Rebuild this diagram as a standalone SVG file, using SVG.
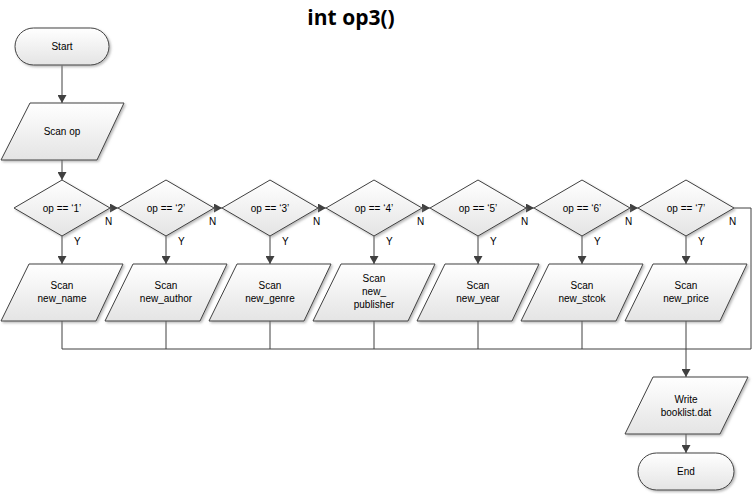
<svg xmlns="http://www.w3.org/2000/svg" width="753" height="494" viewBox="0 0 753 494">
<defs>
<linearGradient id="g" x1="0" y1="0" x2="0" y2="1">
<stop offset="0" stop-color="#ffffff"/>
<stop offset="1" stop-color="#e4e4e4"/>
</linearGradient>
<filter id="sh" x="-10%" y="-10%" width="130%" height="140%">
<feDropShadow dx="1.5" dy="1.5" stdDeviation="0.8" flood-color="#8a8a8a" flood-opacity="0.6"/>
</filter>
<marker id="ah" markerWidth="9" markerHeight="9" refX="8" refY="4.5" orient="auto" markerUnits="userSpaceOnUse">
<path d="M0,0 L8,4.5 L0,9 Z" fill="#404040"/>
</marker>
</defs>
<style>
.s{fill:url(#g);stroke:#404040;stroke-width:1;filter:url(#sh)}
.t{font-family:"Liberation Sans",Arial,sans-serif;font-size:10px;fill:#000;text-anchor:middle}
.l{font-family:"Liberation Sans",Arial,sans-serif;font-size:10px;fill:#000}
.c{fill:none;stroke:#404040;stroke-width:1}
.a{fill:none;stroke:#404040;stroke-width:1;marker-end:url(#ah)}
</style>
<rect width="753" height="494" fill="#fff"/>
<text x="351" y="25" font-family="'Open Sans','Liberation Sans',sans-serif" font-size="21" font-weight="bold" text-anchor="middle" fill="#000">int op3()</text>

<g id="connectors">
<path class="a" d="M62,65.5 L62,103"/>
<path class="a" d="M62,160 L62,180"/>
<path class="a" d="M110,208 L118,208"/>
<path class="a" d="M214,208 L222,208"/>
<path class="a" d="M318,208 L326,208"/>
<path class="a" d="M422,208 L430,208"/>
<path class="a" d="M526,208 L534,208"/>
<path class="a" d="M630,208 L638,208"/>
<path class="a" d="M62,236 L62,264"/>
<path class="a" d="M166,236 L166,264"/>
<path class="a" d="M270,236 L270,264"/>
<path class="a" d="M374,236 L374,264"/>
<path class="a" d="M478,236 L478,264"/>
<path class="a" d="M582,236 L582,264"/>
<path class="a" d="M686,236 L686,264"/>
<path class="c" d="M62,321 L62,349 M166,321 L166,349 M270,321 L270,349 M374,321 L374,349 M478,321 L478,349 M582,321 L582,349"/>
<path class="c" d="M62,349 L751,349"/>
<path class="c" d="M734,208 L751,208 L751,349"/>
<path class="a" d="M686,321 L686,377"/>
<path class="a" d="M686,434 L686,453"/>
<text class="l" x="105" y="225">N</text>
<text class="l" x="209" y="225">N</text>
<text class="l" x="313" y="225">N</text>
<text class="l" x="417" y="225">N</text>
<text class="l" x="521" y="225">N</text>
<text class="l" x="625" y="225">N</text>
<text class="l" x="729" y="225">N</text>
<text class="l" x="74" y="245">Y</text>
<text class="l" x="178" y="245">Y</text>
<text class="l" x="282" y="245">Y</text>
<text class="l" x="386" y="245">Y</text>
<text class="l" x="490" y="245">Y</text>
<text class="l" x="594" y="245">Y</text>
<text class="l" x="698" y="245">Y</text>
</g>

<g id="start">
<rect class="s" x="15" y="28" width="94" height="37" rx="18.5" ry="18.5"/>
<text class="t" x="62" y="50">Start</text>
</g>
<g id="scan_op">
<polygon class="s" points="30,103 124,103 97,160 1,160"/>
<text class="t" x="62" y="135">Scan op</text>
</g>

<g id="d1"><polygon class="s" points="62,180 110,208 62,236 14,208"/><text class="t" x="62" y="211.5">op == ‘1’</text></g>
<g id="d2"><polygon class="s" points="166,180 214,208 166,236 118,208"/><text class="t" x="166" y="211.5">op == ‘2’</text></g>
<g id="d3"><polygon class="s" points="270,180 318,208 270,236 222,208"/><text class="t" x="270" y="211.5">op == ‘3’</text></g>
<g id="d4"><polygon class="s" points="374,180 422,208 374,236 326,208"/><text class="t" x="374" y="211.5">op == ‘4’</text></g>
<g id="d5"><polygon class="s" points="478,180 526,208 478,236 430,208"/><text class="t" x="478" y="211.5">op == ‘5’</text></g>
<g id="d6"><polygon class="s" points="582,180 630,208 582,236 534,208"/><text class="t" x="582" y="211.5">op == ‘6’</text></g>
<g id="d7"><polygon class="s" points="686,180 734,208 686,236 638,208"/><text class="t" x="686" y="211.5">op == ‘7’</text></g>

<g id="s1"><polygon class="s" points="29,264 123,264 96,321 1,321"/><text class="t" x="62" y="289">Scan</text><text class="t" x="62" y="302">new_name</text></g>
<g id="s2"><polygon class="s" points="133,264 227,264 200,321 105,321"/><text class="t" x="166" y="289">Scan</text><text class="t" x="166" y="302">new_author</text></g>
<g id="s3"><polygon class="s" points="237,264 331,264 304,321 209,321"/><text class="t" x="270" y="289">Scan</text><text class="t" x="270" y="302">new_genre</text></g>
<g id="s4"><polygon class="s" points="341,264 435,264 408,321 313,321"/><text class="t" x="374" y="282">Scan</text><text class="t" x="374" y="295">new_</text><text class="t" x="374" y="308">publisher</text></g>
<g id="s5"><polygon class="s" points="445,264 539,264 512,321 417,321"/><text class="t" x="478" y="289">Scan</text><text class="t" x="478" y="302">new_year</text></g>
<g id="s6"><polygon class="s" points="549,264 643,264 616,321 521,321"/><text class="t" x="582" y="289">Scan</text><text class="t" x="582" y="302">new_stcok</text></g>
<g id="s7"><polygon class="s" points="653,264 747,264 720,321 625,321"/><text class="t" x="686" y="289">Scan</text><text class="t" x="686" y="302">new_price</text></g>

<g id="write">
<polygon class="s" points="653,377 748,377 720,434 625,434"/>
<text class="t" x="686" y="403">Write</text>
<text class="t" x="686" y="416">booklist.dat</text>
</g>
<g id="end">
<rect class="s" x="638" y="453" width="96" height="37" rx="18.5" ry="18.5"/>
<text class="t" x="686" y="475">End</text>
</g>
</svg>
